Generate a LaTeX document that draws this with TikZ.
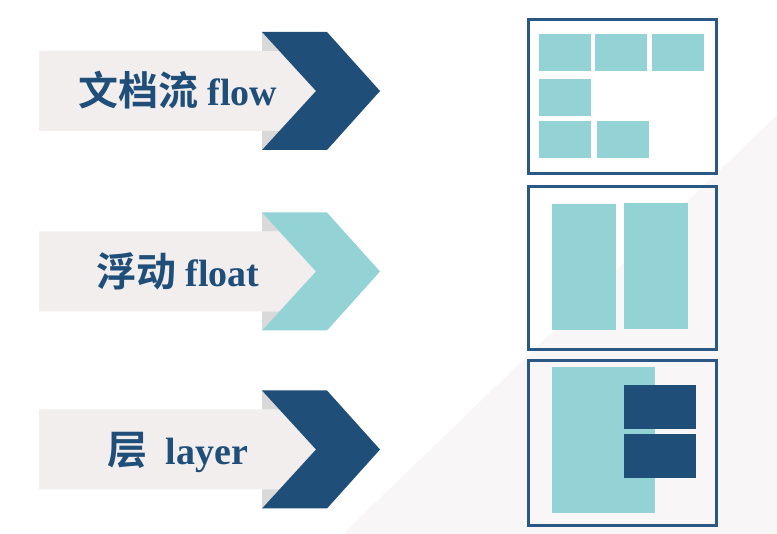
\documentclass[tikz,border=0pt]{standalone}
\usepackage{fontspec}
\setmainfont{Liberation Serif}
\newfontfamily\cjk{Noto Sans CJK SC}[BoldFont={* Bold}]
\definecolor{navyc}{HTML}{1F4E79}
\definecolor{framec}{HTML}{2A5784}
\definecolor{tealc}{HTML}{93D3D5}
\definecolor{palec}{HTML}{F2EEEE}
\definecolor{greyc}{HTML}{D9D9D9}
\definecolor{bgtric}{HTML}{F8F6F7}
\tikzset{
  lbl/.style={anchor=base, text=navyc, font=\bfseries\fontsize{38}{40}\selectfont, inner sep=0pt},
  panel/.style={draw=framec, line width=2.7pt},
  blk/.style={fill=tealc},
  dblk/.style={fill=navyc}
}
\newcommand{\mkarrow}[2]{%
  \begin{scope}[shift={(0,#1)}]
  \fill[palec] (39,-40) -- (279.4,-40) -- (316,0) -- (279.4,40) -- (39,40) -- cycle;
  \fill[greyc] (262,-59) -- (279.4,-40) -- (262,-40) -- cycle;
  \fill[greyc] (262,59) -- (279.4,40) -- (262,40) -- cycle;
  \fill[#2] (262,-59) -- (327,-59) -- (380,0) -- (327,59) -- (262,59) -- (316,0) -- cycle;
  \end{scope}
}
\begin{document}
\begin{tikzpicture}[x=1pt,y=-1pt]
\useasboundingbox (0,0) rectangle (777,534);
\fill[white] (0,0) rectangle (777,534);
\fill[bgtric] (343,534) -- (777,534) -- (777,115) -- cycle;

\mkarrow{91}{navyc}
\mkarrow{271.5}{tealc}
\mkarrow{449.5}{navyc}

\node[lbl] (t1) at (178,106) {{\cjk\bfseries\fontsize{40}{42}\selectfont 文档流}\hspace{9pt}flow};
\node[lbl] (t2) at (178,286.5) {{\cjk\bfseries\fontsize{40}{42}\selectfont 浮动}\hspace{9pt}float};
\node[lbl] (t3) at (178,464.5) {{\cjk\bfseries\fontsize{40}{42}\selectfont 层}\hspace{18pt}layer};

% panel 1: flow
\draw[panel] (528.4,19.4) rectangle (716.6,173.6);
\fill[blk] (539,34) rectangle (591,71);
\fill[blk] (595,34) rectangle (647,71);
\fill[blk] (652,34) rectangle (704,71);
\fill[blk] (539,79) rectangle (591,116);
\fill[blk] (539,121) rectangle (591,158);
\fill[blk] (597,121) rectangle (649,158);

% panel 2: float
\draw[panel] (528.4,186.4) rectangle (716.6,349.6);
\fill[blk] (552,204) rectangle (616,330);
\fill[blk] (624,203) rectangle (688,329);

% panel 3: layer
\draw[panel] (528.4,360.4) rectangle (716.6,525.6);
\fill[blk] (552,367) rectangle (655,513);
\fill[dblk] (624,385) rectangle (696,429);
\fill[dblk] (624,434) rectangle (696,478);
\end{tikzpicture}
\end{document}
